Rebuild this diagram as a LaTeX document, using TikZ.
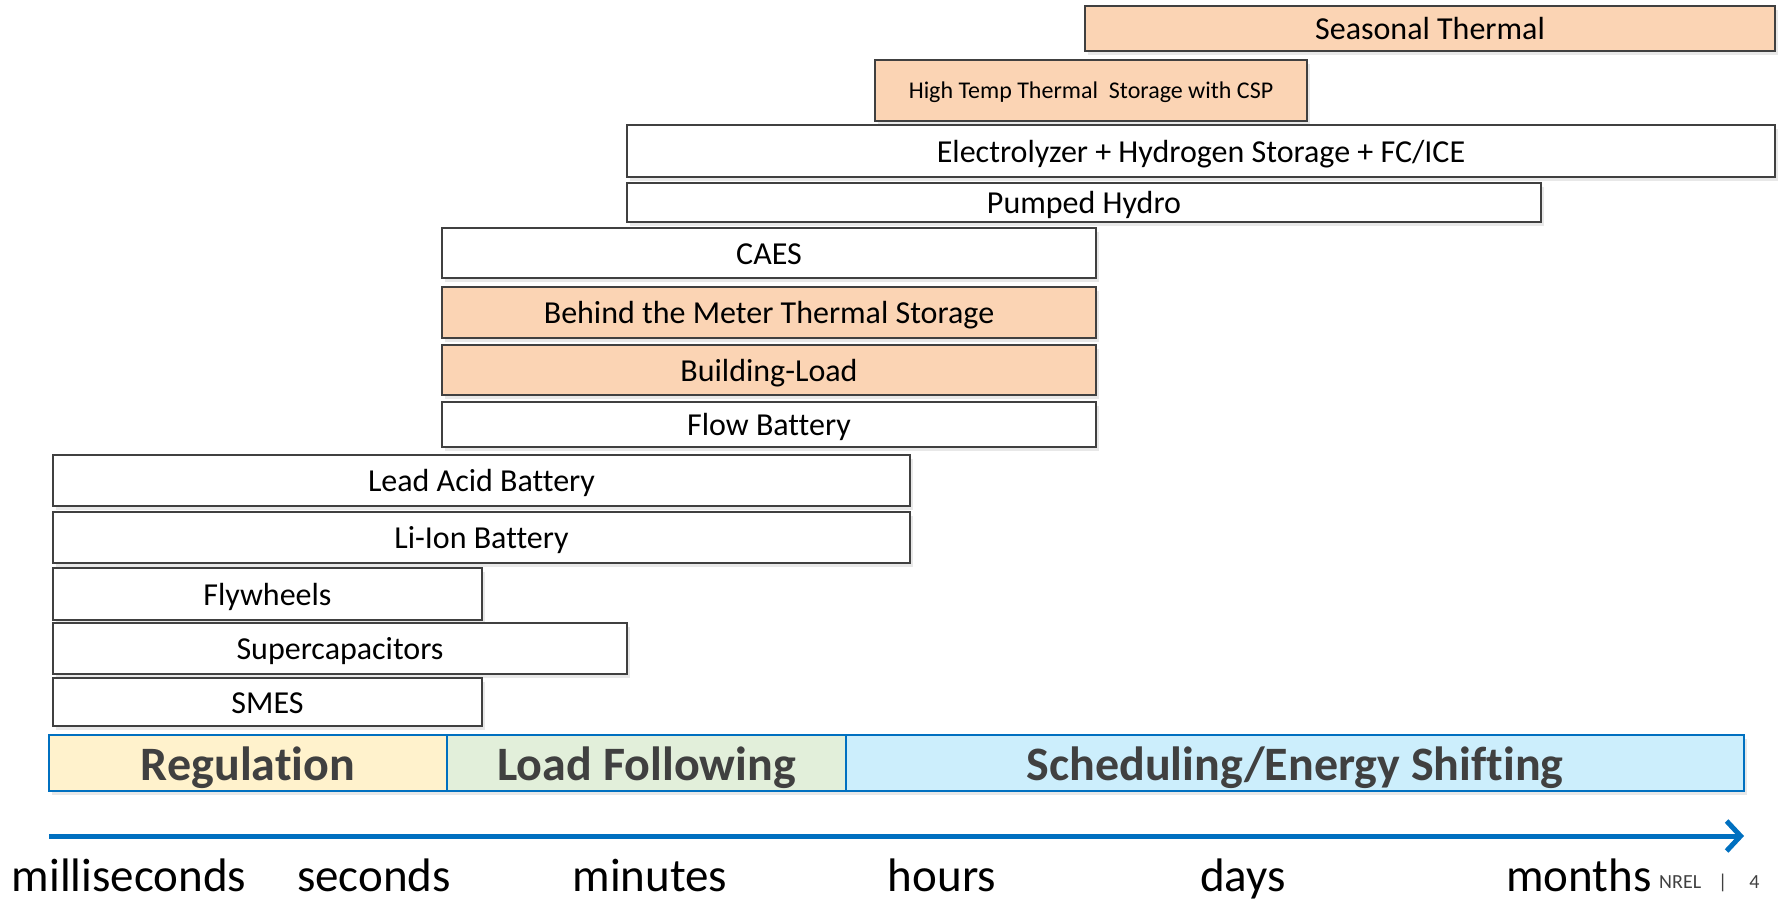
\documentclass[tikz,border=0pt]{standalone}
\usepackage{fontspec}
\setmainfont{Carlito}[Ligatures=NoCommon]
\usetikzlibrary{positioning,shadows,arrows.meta}
\definecolor{peach}{HTML}{FBD4B4}
\definecolor{edgegray}{HTML}{404040}
\definecolor{nrelblue}{HTML}{0070C0}
\definecolor{regfill}{HTML}{FFF2CC}
\definecolor{lffill}{HTML}{E2EFDA}
\definecolor{schedfill}{HTML}{CCEEFC}
\tikzstyle{timearrow} = [line width=5pt,draw=nrelblue,-{Straight Barb[length=14pt,width=30pt]}]
\tikzset{tech/.style={draw=edgegray,line width=2pt,fill=white,anchor=north west,inner sep=0pt,outer sep=0pt,text height=22pt,text depth=0pt,font=\fontsize{32}{38}\selectfont,drop shadow={opacity=0.18,shadow xshift=3pt,shadow yshift=-4pt}},thermal/.style={tech,fill=peach},band/.style={draw=nrelblue,line width=1.5pt,anchor=west,inner sep=0pt,outer sep=0pt,minimum height=56pt,text height=34pt,text depth=0pt,text=edgegray,font=\fontsize{48}{56}\selectfont\bfseries,drop shadow={opacity=0.18,shadow xshift=3pt,shadow yshift=-4pt}},timelabel/.style={anchor=base,inner sep=0pt,font=\fontsize{47}{54}\selectfont}}

\begin{document}
\begin{tikzpicture}[x=1pt,y=-1pt]
    \useasboundingbox (0,0) rectangle (1779,900);

    % storage technologies
    \node [thermal, minimum width=690pt, minimum height=45pt] (seasonal) at (1085,6) {Seasonal Thermal};
    \node [thermal, minimum width=432pt, minimum height=61pt, text height=16pt, font=\fontsize{24}{28}\selectfont] (hightemp) at (875,60) {High Temp Thermal\ \ Storage with CSP};
    \node [tech, minimum width=1148pt, minimum height=52pt] (electro) at (627,125) {Electrolyzer + Hydrogen Storage + FC/ICE};
    \node [tech, minimum width=914pt, minimum height=39pt] (pumped) at (627,183) {Pumped Hydro};

    \node [tech, minimum width=654pt, minimum height=50pt] (caes) at (442,228) {CAES};
    \node [thermal, minimum width=654pt, minimum height=51pt] (behind) at (442,287) {Behind the Meter Thermal Storage};
    \node [thermal, minimum width=654pt, minimum height=50pt] (building) at (442,345) {Building-Load};
    \node [tech, minimum width=654pt, minimum height=45pt] (flow) at (442,402) {Flow Battery};

    \node [tech, minimum width=857pt, minimum height=51pt] (leadacid) at (53,455) {Lead Acid Battery};
    \node [tech, minimum width=857pt, minimum height=51pt] (liion) at (53,512) {Li-Ion Battery};
    \node [tech, minimum width=429pt, minimum height=52pt] (flywheels) at (53,568) {Flywheels};
    \node [tech, minimum width=574pt, minimum height=51pt] (supercap) at (53,623) {Supercapacitors};
    \node [tech, minimum width=429pt, minimum height=48pt] (smes) at (53,678) {SMES};

    % service bands
    \node [band, fill=regfill, minimum width=398pt] (regulation) at (49,763) {Regulation};
    \node [band, fill=lffill, minimum width=399pt, right=0pt of regulation] (loadfollow) {Load Following};
    \node [band, fill=schedfill, minimum width=898pt, right=0pt of loadfollow] (scheduling) {Scheduling/Energy Shifting};

    % time axis
    \coordinate (tstart) at (49,836);
    \coordinate (tend) at (1744,836);
    \draw [timearrow] (tstart) -- (tend);

    \foreach \lbl/\xx in {milliseconds/129,seconds/374,minutes/650,hours/942,days/1243,months/1579}
        \node [timelabel] (t\lbl) at (\xx,891) {\lbl};

    \node [anchor=base west, inner sep=0pt, text=edgegray, font=\fontsize{20}{24}\selectfont] (pagenum) at (1659,888) {NREL\hspace{17pt}|\hspace{22pt}4};
\end{tikzpicture}
\end{document}
